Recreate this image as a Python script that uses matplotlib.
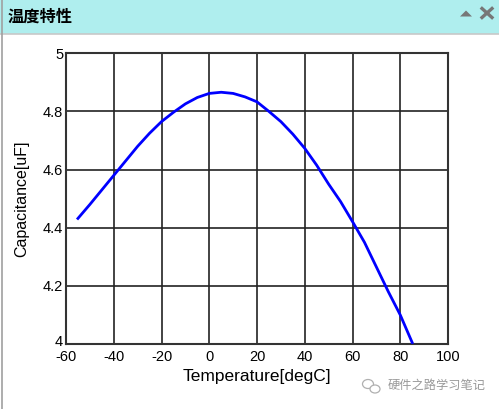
import matplotlib
matplotlib.use("Agg")
from matplotlib import pyplot as plt
from matplotlib.patches import Rectangle, Ellipse, Polygon
from matplotlib.transforms import ScaledTranslation

# values, 5 degC steps
temp = [-55, -50, -45, -40, -35, -30, -25, -20, -15, -10, -5, 0, 5, 10, 15,
        20, 25, 30, 35, 40, 45, 50, 55, 60, 65, 70, 75, 80, 85]
cap = [4.432, 4.48, 4.53, 4.58, 4.63, 4.68, 4.725, 4.765, 4.797, 4.826, 4.848,
       4.862, 4.866, 4.862, 4.85, 4.833, 4.80, 4.765, 4.722, 4.673, 4.615,
       4.55, 4.49, 4.421, 4.35, 4.265, 4.18, 4.10, 4.005]
xticks = [-60, -40, -20, 0, 20, 40, 60, 80, 100]
yticks = [4, 4.2, 4.4, 4.6, 4.8, 5]
ylabels = ["4", "4.2", "4.4", "4.6", "4.8", "5"]

title = "温度特性"
watermark = "硬件之路学习笔记"

plt.rcParams['font.family'] = ['Liberation Sans', 'Noto Sans CJK SC', 'DejaVu Sans']

fig = plt.figure(figsize=(4.99, 4.09), dpi=100)
W, H = 499, 409

def fx(px):
    return px / W

def fy(py):
    return 1 - py / H

# panel header bar
fig.patches.append(Rectangle((0, fy(34)), 1, 34 / H, transform=fig.transFigure,
                             facecolor="#afeeee", edgecolor="none", zorder=0))
fig.lines.append(plt.Line2D([0, 1], [fy(34), fy(34)], transform=fig.transFigure,
                            color="#c8c8c8", lw=1.2))
fig.lines.append(plt.Line2D([fx(1.5), fx(1.5)], [0, 1], transform=fig.transFigure,
                            color="#a0a0a0", lw=1.2))
fig.text(fx(8), fy(17), title, fontsize=11.7, fontweight="bold", va="center",
         ha="left", family=['Noto Sans CJK SC', 'DejaVu Sans'])
fig.patches.append(Polygon([(fx(460), fy(16.5)), (fx(472), fy(16.5)), (fx(466), fy(10.5))],
                           closed=True, transform=fig.transFigure,
                           facecolor="#777777", edgecolor="none"))
for a, b in [((482, 8.5), (492, 17.5)), ((482, 17.5), (492, 8.5))]:
    fig.lines.append(plt.Line2D([fx(a[0]), fx(b[0])], [fy(a[1]), fy(b[1])],
                                transform=fig.transFigure, color="#777777", lw=2.4))

ax = fig.add_axes([fx(66), 65 / H, 382 / W, 290.7 / H])
ax.plot(temp, cap, color="#0000ff", lw=2.0, zorder=3)
ax.set_xlim(-60, 100)
ax.set_ylim(4, 5)
ax.set_xticks(xticks)
ax.set_xticklabels([str(t) for t in xticks])
ax.set_yticks(yticks)
ax.set_yticklabels(ylabels)
ax.grid(True, color="#222222", lw=1.2)
ax.set_axisbelow(True)
ax.tick_params(length=0, labelsize=10.5)
ax.tick_params(axis="x", pad=4)
ax.tick_params(axis="y", pad=2)
for s in ax.spines.values():
    s.set_color("#333333")
    s.set_linewidth(1.5)
ax.set_xlabel("Temperature[degC]", fontsize=12.5, labelpad=4)
ax.set_ylabel("Capacitance[uF]", fontsize=11.5, labelpad=10)

# the bottom "4" sits a little above the axis in the reference
lab4 = ax.get_yticklabels()[0]
lab4.set_transform(lab4.get_transform() + ScaledTranslation(0, 3 / 100, fig.dpi_scale_trans))

# watermark
fig.patches.append(Ellipse((fx(368), fy(384)), 11 / W, 9 / H, transform=fig.transFigure,
                           facecolor="none", edgecolor="#b0b0b0", lw=0.9))
fig.patches.append(Ellipse((fx(375), fy(389)), 10 / W, 8 / H, transform=fig.transFigure,
                           facecolor="white", edgecolor="#b0b0b0", lw=0.9))
fig.text(fx(388), fy(385), watermark, fontsize=8.8, color="#999999", va="center",
         ha="left", family=['Noto Sans CJK SC', 'DejaVu Sans'])

fig.savefig("out.png", dpi=100)
